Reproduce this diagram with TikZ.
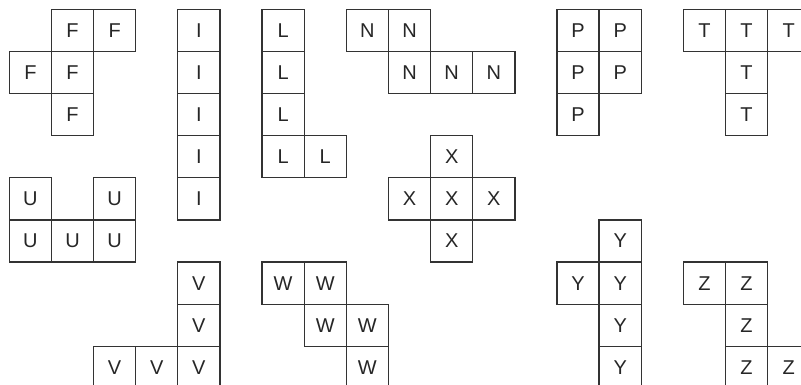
\documentclass[tikz,border=0pt]{standalone}
\usepackage{fontspec}
\setmainfont{Liberation Sans}
\begin{document}
\begin{tikzpicture}[x=1cm,y=-1cm,
  cell/.style={draw=black!80, line width=0.9pt, minimum size=1cm, inner sep=0pt,
    text=black!85, font=\fontsize{13.5}{14}\selectfont}]
\useasboundingbox (-0.221,-0.221) rectangle (18.792,8.917);
\foreach \c/\r [count=\i] in {1/0,2/0,0/1,1/1,1/2} \node[cell] (F\i) at (\c+0.5,\r+0.5) {F};
\foreach \c/\r [count=\i] in {4/0,4/1,4/2,4/3,4/4} \node[cell] (I\i) at (\c+0.5,\r+0.5) {I};
\foreach \c/\r [count=\i] in {6/0,6/1,6/2,6/3,7/3} \node[cell] (L\i) at (\c+0.5,\r+0.5) {L};
\foreach \c/\r [count=\i] in {8/0,9/0,9/1,10/1,11/1} \node[cell] (N\i) at (\c+0.5,\r+0.5) {N};
\foreach \c/\r [count=\i] in {13/0,14/0,13/1,14/1,13/2} \node[cell] (P\i) at (\c+0.5,\r+0.5) {P};
\foreach \c/\r [count=\i] in {16/0,17/0,18/0,17/1,17/2} \node[cell] (T\i) at (\c+0.5,\r+0.5) {T};
\foreach \c/\r [count=\i] in {0/4,2/4,0/5,1/5,2/5} \node[cell] (U\i) at (\c+0.5,\r+0.5) {U};
\foreach \c/\r [count=\i] in {10/3,9/4,10/4,11/4,10/5} \node[cell] (X\i) at (\c+0.5,\r+0.5) {X};
\foreach \c/\r [count=\i] in {4/6,4/7,2/8,3/8,4/8} \node[cell] (V\i) at (\c+0.5,\r+0.5) {V};
\foreach \c/\r [count=\i] in {6/6,7/6,7/7,8/7,8/8} \node[cell] (W\i) at (\c+0.5,\r+0.5) {W};
\foreach \c/\r [count=\i] in {14/5,13/6,14/6,14/7,14/8} \node[cell] (Y\i) at (\c+0.5,\r+0.5) {Y};
\foreach \c/\r [count=\i] in {16/6,17/6,17/7,17/8,18/8} \node[cell] (Z\i) at (\c+0.5,\r+0.5) {Z};
\end{tikzpicture}
\end{document}
